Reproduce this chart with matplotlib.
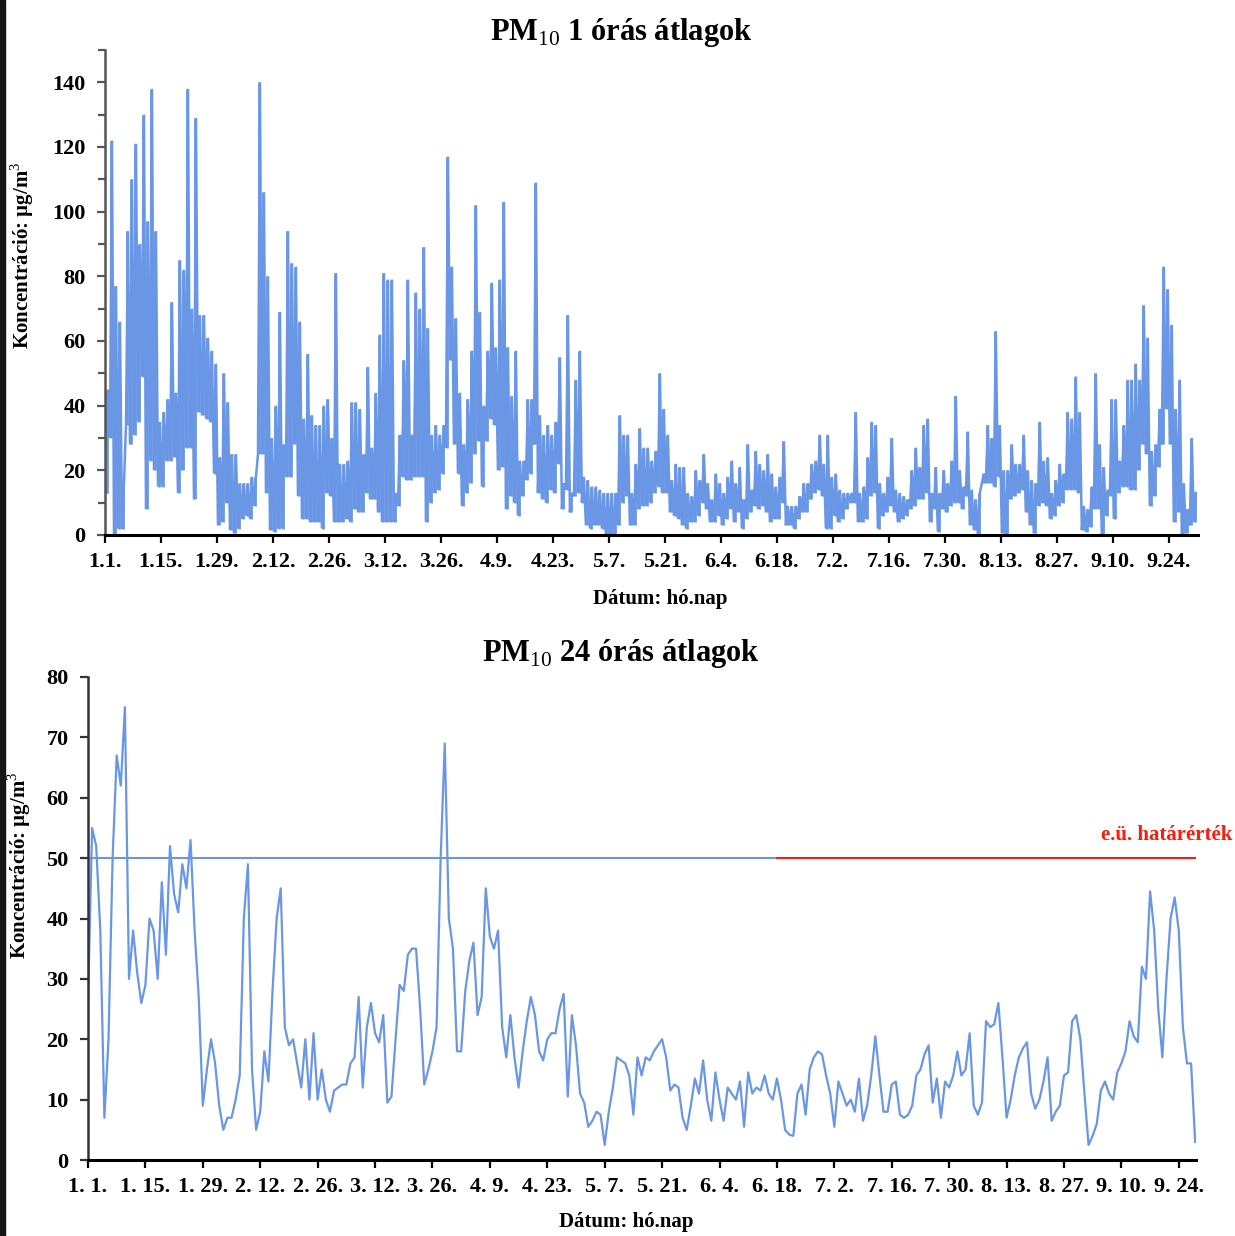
import matplotlib
matplotlib.use("Agg")
import matplotlib.pyplot as plt
import numpy as np
from matplotlib.patches import Rectangle
from matplotlib.ticker import MultipleLocator

plt.rcParams['font.family'] = ['Liberation Serif', 'DejaVu Serif']
plt.rcParams['mathtext.fontset'] = 'custom'
plt.rcParams['mathtext.rm'] = 'Liberation Serif'
plt.rcParams['mathtext.bf'] = 'Liberation Serif:bold'

BLUE = '#6a96e6'
RED = '#ff1a0a'

# hourly PM10: daily maximum and minimum of the 1 hour means, 1.1. - 9.30.
hourly_max = [
    45, 122, 77, 66, 16, 94, 110, 121, 90, 130, 97, 138, 94, 35, 38, 42, 72, 44, 85, 82,
    138, 70, 129, 68, 68, 61, 57, 53, 24, 50, 41, 25, 25, 16, 16, 16, 18, 18, 140, 106,
    80, 30, 40, 69, 28, 94, 84, 83, 66, 36, 56, 37, 34, 34, 40, 42, 30, 81, 22, 22,
    23, 41, 41, 39, 25, 52, 27, 44, 62, 81, 79, 79, 13, 31, 54, 79, 31, 75, 70, 89,
    64, 31, 34, 31, 34, 117, 83, 67, 44, 28, 42, 57, 102, 69, 40, 57, 78, 58, 79, 103,
    58, 43, 57, 23, 23, 42, 42, 109, 37, 31, 34, 31, 35, 55, 16, 68, 13, 48, 57, 18,
    17, 15, 15, 14, 13, 13, 13, 13, 37, 31, 31, 13, 22, 33, 27, 27, 23, 26, 50, 39,
    31, 17, 22, 21, 21, 13, 12, 20, 17, 25, 16, 11, 19, 16, 13, 18, 23, 16, 21, 11,
    28, 14, 26, 22, 20, 25, 19, 15, 18, 29, 9, 9, 9, 12, 16, 16, 22, 23, 31, 22,
    31, 18, 19, 14, 13, 13, 13, 38, 13, 15, 24, 35, 34, 16, 13, 18, 30, 14, 13, 12,
    11, 20, 27, 21, 34, 36, 13, 21, 13, 20, 16, 23, 43, 20, 15, 32, 14, 11, 13, 19,
    34, 30, 63, 34, 20, 20, 28, 22, 22, 31, 20, 17, 16, 35, 23, 24, 13, 17, 22, 19,
    38, 36, 49, 38, 9, 8, 15, 50, 28, 21, 14, 42, 42, 23, 34, 48, 48, 53, 48, 71,
    61, 26, 28, 39, 83, 76, 65, 39, 48, 16, 8, 30, 13,
]
hourly_min = [
    13, 30, 0, 2, 2, 34, 28, 31, 35, 49, 8, 23, 20, 15, 15, 23, 23, 24, 13, 20,
    27, 27, 11, 38, 37, 36, 35, 19, 3, 4, 10, 1.5, 0.5, 2, 5, 6, 5, 9, 25, 25,
    13, 1.5, 1, 2, 2, 18, 18, 28, 12, 5, 5, 4, 4, 4, 2, 13, 12, 4, 4, 4,
    5, 4, 8, 7, 7, 13, 11, 11, 7, 4, 4, 4, 4, 9, 18, 17, 17, 18, 18, 18,
    4, 10, 13, 14, 19, 27, 54, 28, 19, 9, 13, 16, 25, 29, 15, 29, 36, 34, 20, 21,
    8, 12, 10, 6, 12, 17, 19, 28, 13, 11, 10, 14, 13, 22, 8, 14, 7, 12, 13, 10,
    3, 2, 3, 3, 2, 0, 0, 0, 3, 10, 12, 3, 3, 8, 9, 9, 10, 13, 15, 13,
    13, 7, 6, 5, 3, 2, 4, 4, 6, 10, 8, 4, 4, 6, 3, 5, 8, 4, 7, 2,
    5, 7, 9, 8, 9, 7, 4, 5, 5, 10, 3, 3, 2, 5, 7, 7, 11, 13, 14, 12,
    2, 2, 6, 4, 5, 8, 10, 10, 4, 4, 5, 12, 13, 2, 6, 7, 9, 7, 4, 5,
    6, 8, 9, 11, 11, 13, 4, 8, 1, 8, 7, 9, 10, 10, 8, 12, 3, 1.5, 0, 16,
    16, 16, 15, 18, 0.5, 0, 11, 12, 13, 14, 7, 3, 0.5, 9, 10, 9, 5, 6, 9, 10,
    14, 14, 14, 13, 1.5, 1, 2.5, 8, 8, 0, 6, 12, 5, 13, 15, 15, 14, 14, 20, 28,
    25, 9, 12, 21, 28, 39, 28, 4, 7, 0, 0.5, 3, 4,
]

# 24 hour means, one value per day from 1.1.
daily_mean = [
    26, 55, 52, 38, 7, 20, 50, 67, 62, 75, 30, 38, 31, 26, 29, 40, 38, 30, 46, 34,
    52, 44, 41, 49, 45, 53, 38, 27, 9, 15, 20, 16, 9, 5, 7, 7, 10, 14, 40, 49,
    15, 5, 8, 18, 13, 28, 40, 45, 22, 19, 20, 16, 12, 20, 10, 21, 10, 15, 10, 8,
    11.5, 12, 12.5, 12.5, 16, 17, 27, 12, 22, 26, 21, 19.5, 24, 9.5, 10.5, 20, 29, 28, 34, 35,
    35, 25, 12.5, 15, 18, 22, 50, 69, 40, 35, 18, 18, 28, 33, 36, 24, 27, 45, 37, 35,
    38, 22, 17, 24, 17, 12, 18, 23, 27, 24, 18, 16.5, 20, 21, 21, 25, 27.5, 10.5, 24, 19,
    11, 9.5, 5.5, 6.5, 8, 7.5, 2.5, 8, 12, 17, 16.5, 16, 14, 7.5, 17, 14, 17, 16.5, 18, 19,
    20, 17, 11.5, 12.5, 12, 7, 5, 9, 13.5, 11, 16.5, 10, 6.5, 14.5, 10, 6.5, 12, 11, 10, 13,
    5.5, 14.5, 11, 12, 11.5, 14, 11, 10, 13.5, 10, 5, 4.2, 4, 11, 12.5, 7.5, 15, 17, 18, 17.5,
    14, 11, 5.5, 13, 11, 9, 10, 8, 13.5, 6.5, 9, 14, 20.5, 14, 8, 8, 12.5, 13, 7.5, 7,
    7.5, 9, 14, 15, 17.5, 19, 9.5, 13.5, 7, 13, 12, 14, 18, 14, 15, 21, 9, 7.5, 9.5, 23,
    22, 22.5, 26, 17, 7, 10, 14, 17, 18.5, 19.5, 11, 8.5, 10, 13, 17, 6.5, 8, 9, 14, 14.5,
    23, 24, 20, 11, 2.5, 4, 6, 11.5, 13, 11, 10, 14.5, 16, 18, 23, 20.5, 19.5, 32, 30, 44.5,
    38, 25, 17, 30, 40, 43.5, 38, 22, 16, 16, 3,
]

limit_value = 50          # daily limit, µg/m3
limit_red_from = 168      # day from which the limit line is drawn red

tick_days = [0, 14, 28, 42, 56, 70, 84, 98, 112, 126, 140, 154, 168, 182, 196,
             210, 224, 238, 252, 266]
tick_labels_1h = ['1.1.', '1.15.', '1.29.', '2.12.', '2.26.', '3.12.', '3.26.', '4.9.',
                  '4.23.', '5.7.', '5.21.', '6.4.', '6.18.', '7.2.', '7.16.', '7.30.',
                  '8.13.', '8.27.', '9.10.', '9.24.']
tick_labels_24h = ['1. 1.', '1. 15.', '1. 29.', '2. 12.', '2. 26.', '3. 12.', '3. 26.',
                   '4. 9.', '4. 23.', '5. 7.', '5. 21.', '6. 4.', '6. 18.', '7. 2.',
                   '7. 16.', '7. 30.', '8. 13.', '8. 27.', '9. 10.', '9. 24.']

W, H = 1235, 1236
fig = plt.figure(figsize=(W / 100, H / 100), dpi=100)


def px_axes(left, top, right, bottom):
    return fig.add_axes([left / W, 1 - bottom / H, (right - left) / W, (bottom - top) / H])


def style(ax, spine_col):
    for s in ('top', 'right'):
        ax.spines[s].set_visible(False)
    ax.spines['left'].set_color(spine_col)
    ax.spines['left'].set_linewidth(1.8)
    ax.spines['bottom'].set_color('black')
    ax.spines['bottom'].set_linewidth(2.2)
    ax.tick_params(axis='both', which='both', direction='out', width=1.6)
    ax.tick_params(axis='both', which='major', length=6, labelsize=16)
    ax.tick_params(axis='y', which='major', pad=8, color=spine_col)
    ax.tick_params(axis='x', which='major', pad=6)
    ax.tick_params(axis='y', which='minor', length=5, color=spine_col)
    for lab in ax.get_xticklabels() + ax.get_yticklabels():
        lab.set_fontweight('bold')


# ---- 1 hour means ----
ax1 = px_axes(105, 50, 1198, 535)
hi = np.asarray(hourly_max, dtype=float)
lo = np.asarray(hourly_min, dtype=float)
days = np.arange(hi.size)
# daily spread of the hourly values, plus the hour-to-hour trace over it
ax1.vlines(days + 0.5, lo, hi, color=BLUE, lw=2.0)
y1 = np.column_stack((lo, hi)).ravel()
x1 = np.arange(y1.size) / 2.0 + 0.25
ax1.plot(x1, y1, color=BLUE, lw=1.8, solid_joinstyle='miter')
ax1.set_xlim(0, 273.3)
ax1.set_ylim(0, 150)
ax1.yaxis.set_minor_locator(MultipleLocator(10))
ax1.set_yticks(np.arange(0, 141, 20))
ax1.set_xticks(tick_days)
ax1.set_xticklabels(tick_labels_1h)
style(ax1, '#555555')
ax1.set_ylabel('Koncentráció: µg/m$^3$', fontsize=15, fontweight='bold')
ax1.yaxis.set_label_coords(-0.063, 0.577)
ax1.set_xlabel('Dátum: hó.nap', fontsize=15, fontweight='bold')
ax1.xaxis.set_label_coords(0.508, -0.111)
fig.text(0.503, 0.974, 'PM$_{10}$ 1 órás átlagok', ha='center', va='center',
         fontsize=22, fontweight='bold')

# ---- 24 hour means ----
ax2 = px_axes(88, 677, 1196, 1160)
d = np.arange(len(daily_mean))
ax2.plot(d, daily_mean, color=BLUE, lw=1.6)
ax2.plot([0, limit_red_from], [limit_value, limit_value], color=BLUE, lw=1.5)
ax2.plot([limit_red_from, d[-1]], [limit_value, limit_value], color=RED, lw=1.5)
fig.text(1232 / W, 1 - 835 / H, 'e.ü. határérték', color=RED, fontsize=15,
         fontweight='bold', ha='right', va='center')
ax2.set_xlim(0, 270.2)
ax2.set_ylim(0, 80)
ax2.set_yticks(np.arange(0, 81, 10))
ax2.set_xticks(tick_days)
ax2.set_xticklabels(tick_labels_24h)
style(ax2, '#333333')
ax2.set_ylabel('Koncentráció: µg/m$^3$', fontsize=15, fontweight='bold')
ax2.yaxis.set_label_coords(-0.050, 0.61)
ax2.set_xlabel('Dátum: hó.nap', fontsize=15, fontweight='bold')
ax2.xaxis.set_label_coords(0.486, -0.108)
fig.text(0.503, 0.471, 'PM$_{10}$ 24 órás átlagok', ha='center', va='center',
         fontsize=22, fontweight='bold')

# dark strip along the left edge of the page
fig.patches.append(Rectangle((0, 0), 5 / W, 1, transform=fig.transFigure,
                             color='#151515', zorder=10))

fig.savefig('out.png', dpi=100)
